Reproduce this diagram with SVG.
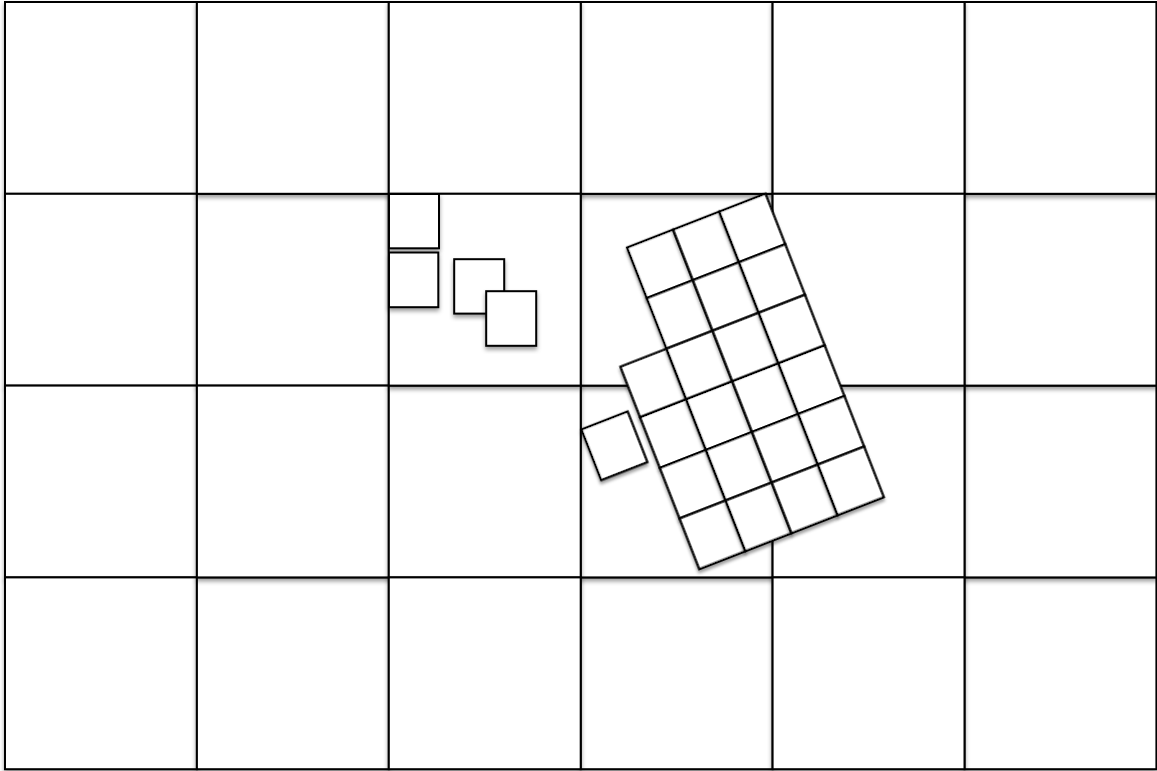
<svg xmlns="http://www.w3.org/2000/svg" width="1157" height="771" viewBox="0 0 1157 771">
<defs>
<filter id="sh" x="-10%" y="-10%" width="125%" height="125%">
<feDropShadow dx="0" dy="3" stdDeviation="2" flood-color="#000" flood-opacity="0.38"/>
</filter>
<filter id="shr" x="-15%" y="-15%" width="135%" height="135%">
<feDropShadow dx="-1.1" dy="2.8" stdDeviation="1.8" flood-color="#000" flood-opacity="0.38"/>
</filter>
</defs>
<style>
.c{fill:#fff;stroke:#000;stroke-width:2;filter:url(#sh)}
.s{fill:#fff;stroke:#000;stroke-width:2;filter:url(#sh)}
.r{fill:#fff;stroke:#000;stroke-width:2.3;filter:url(#shr)}
</style>
<rect width="1157" height="771" fill="#fff"/>
<g id="grid">
<g id="cell-5-3"><rect class="c" x="964.5" y="577.4" width="191.9" height="191.8"/></g>
<g id="cell-5-2"><rect class="c" x="964.5" y="385.6" width="191.9" height="191.8"/></g>
<g id="cell-5-1"><rect class="c" x="964.5" y="193.8" width="191.9" height="191.8"/></g>
<g id="cell-5-0"><rect class="c" x="964.5" y="2" width="191.9" height="191.8"/></g>
<g id="cell-3-3"><rect class="c" x="580.7" y="577.4" width="191.9" height="191.8"/></g>
<g id="cell-3-2"><rect class="c" x="580.7" y="385.6" width="191.9" height="191.8"/></g>
<g id="cell-3-1"><rect class="c" x="580.7" y="193.8" width="191.9" height="191.8"/></g>
<g id="cell-3-0"><rect class="c" x="580.7" y="2" width="191.9" height="191.8"/></g>
<g id="cell-0-0"><rect class="c" x="5" y="2" width="191.9" height="191.8"/></g>
<g id="cell-0-1"><rect class="c" x="5" y="193.8" width="191.9" height="191.8"/></g>
<g id="cell-0-2"><rect class="c" x="5" y="385.6" width="191.9" height="191.8"/></g>
<g id="cell-0-3"><rect class="c" x="5" y="577.4" width="191.9" height="191.8"/></g>
<g id="cell-1-1"><rect class="c" x="196.9" y="193.8" width="191.9" height="191.8"/></g>
<g id="cell-1-3"><rect class="c" x="196.9" y="577.4" width="191.9" height="191.8"/></g>
<g id="cell-1-0"><rect class="c" x="196.9" y="2" width="191.9" height="191.8"/></g>
<g id="cell-1-2"><rect class="c" x="196.9" y="385.6" width="191.9" height="191.8"/></g>
<g id="cell-2-0"><rect class="c" x="388.8" y="2" width="191.9" height="191.8"/></g>
<g id="cell-2-2"><rect class="c" x="388.8" y="385.6" width="191.9" height="191.8"/></g>
<g id="cell-2-1"><rect class="c" x="388.8" y="193.8" width="191.9" height="191.8"/></g>
<g id="cell-2-3"><rect class="c" x="388.8" y="577.4" width="191.9" height="191.8"/></g>
<g id="cell-4-0"><rect class="c" x="772.6" y="2" width="191.9" height="191.8"/></g>
<g id="cell-4-2"><rect class="c" x="772.6" y="385.6" width="191.9" height="191.8"/></g>
<g id="cell-4-1"><rect class="c" x="772.6" y="193.8" width="191.9" height="191.8"/></g>
<g id="cell-4-3"><rect class="c" x="772.6" y="577.4" width="191.9" height="191.8"/></g>
</g>
<g id="small">
<g id="sq-a"><rect class="s" x="389" y="194" width="50" height="54.3"/></g>
<g id="sq-b"><rect class="s" x="389" y="252.5" width="49.3" height="54.7"/></g>
<g id="sq-c"><rect class="s" x="454.2" y="259.2" width="50" height="54.4"/></g>
<g id="sq-d"><rect class="s" x="486.2" y="291.2" width="50" height="54.6"/></g>
</g>
<g id="lone" transform="translate(581.5,429.5) rotate(-21.3)">
<rect class="r" x="0" y="0" width="49.5" height="54.3"/>
</g>
<g id="tilted" transform="translate(627.1,247.6) rotate(-21.3)">
<g id="t-0-0"><rect class="r" x="0" y="0" width="49.5" height="54.3"/></g>
<g id="t-1-0"><rect class="r" x="49.5" y="0" width="49.5" height="54.3"/></g>
<g id="t-2-0"><rect class="r" x="99" y="0" width="49.5" height="54.3"/></g>
<g id="t-0-1"><rect class="r" x="0" y="54.3" width="49.5" height="54.3"/></g>
<g id="t-1-1"><rect class="r" x="49.5" y="54.3" width="49.5" height="54.3"/></g>
<g id="t-2-1"><rect class="r" x="99" y="54.3" width="49.5" height="54.3"/></g>
<g id="t-m-2"><rect class="r" x="-49.5" y="108.6" width="49.5" height="54.3"/></g>
<g id="t-0-2"><rect class="r" x="0" y="108.6" width="49.5" height="54.3"/></g>
<g id="t-1-2"><rect class="r" x="49.5" y="108.6" width="49.5" height="54.3"/></g>
<g id="t-2-2"><rect class="r" x="99" y="108.6" width="49.5" height="54.3"/></g>
<g id="t-m-3"><rect class="r" x="-49.5" y="162.9" width="49.5" height="54.3"/></g>
<g id="t-0-3"><rect class="r" x="0" y="162.9" width="49.5" height="54.3"/></g>
<g id="t-1-3"><rect class="r" x="49.5" y="162.9" width="49.5" height="54.3"/></g>
<g id="t-2-3"><rect class="r" x="99" y="162.9" width="49.5" height="54.3"/></g>
<g id="t-m-4"><rect class="r" x="-49.5" y="217.2" width="49.5" height="54.3"/></g>
<g id="t-0-4"><rect class="r" x="0" y="217.2" width="49.5" height="54.3"/></g>
<g id="t-1-4"><rect class="r" x="49.5" y="217.2" width="49.5" height="54.3"/></g>
<g id="t-2-4"><rect class="r" x="99" y="217.2" width="49.5" height="54.3"/></g>
<g id="t-m-5"><rect class="r" x="-49.5" y="271.5" width="49.5" height="54.3"/></g>
<g id="t-0-5"><rect class="r" x="0" y="271.5" width="49.5" height="54.3"/></g>
<g id="t-1-5"><rect class="r" x="49.5" y="271.5" width="49.5" height="54.3"/></g>
<g id="t-2-5"><rect class="r" x="99" y="271.5" width="49.5" height="54.3"/></g>
</g>
<g id="connectors"/>
</svg>
